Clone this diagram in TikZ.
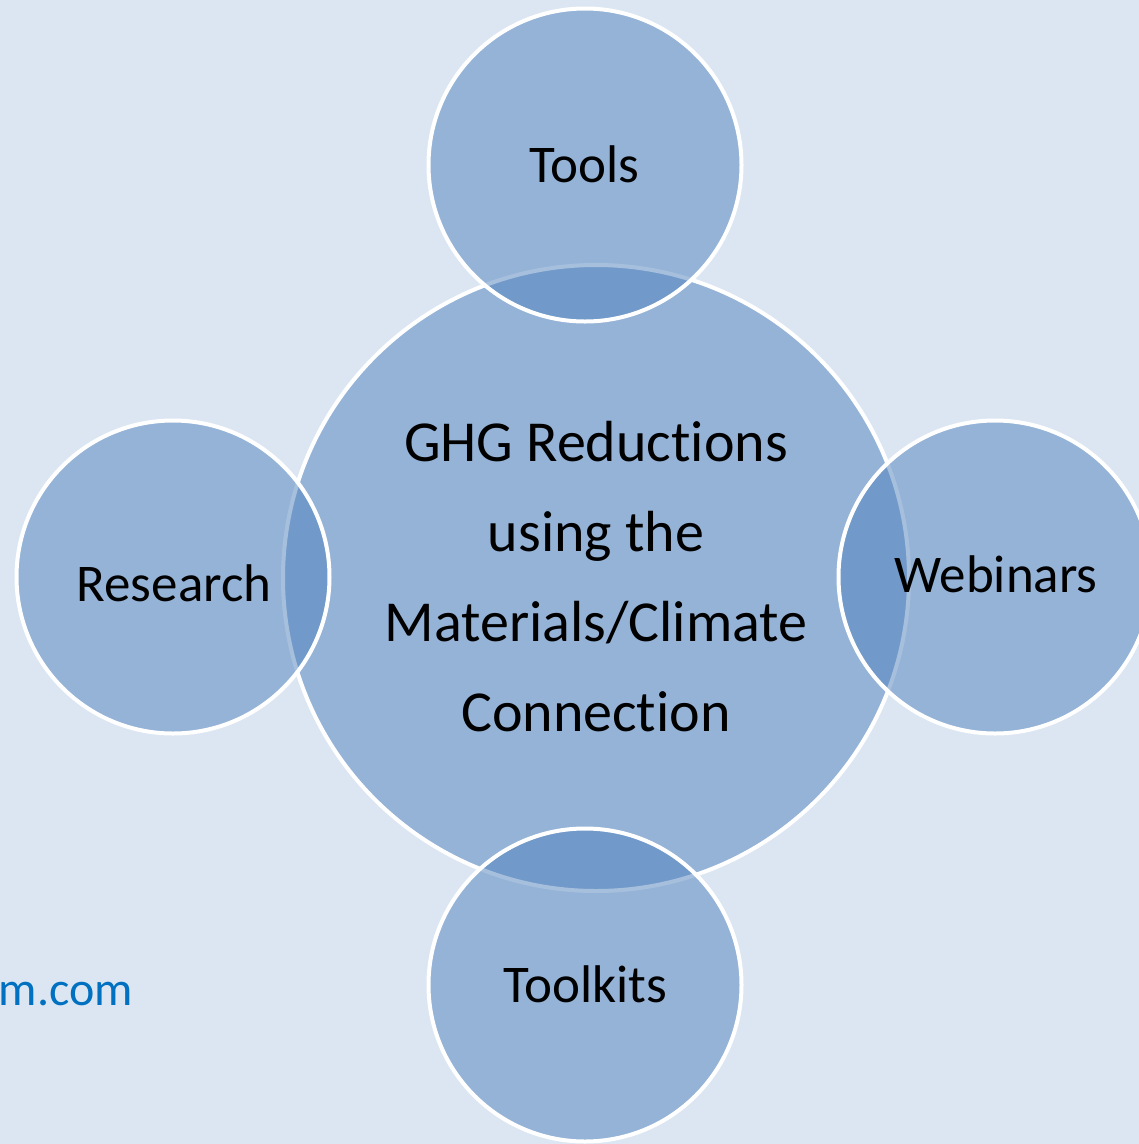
\documentclass[tikz,border=0pt]{standalone}
\usepackage{fontspec}
\setmainfont[Ligatures=NoCommon,RawFeature=-liga]{Carlito}
\definecolor{bgblue}{HTML}{DCE6F2}
\definecolor{accent}{HTML}{4F81BD}
\definecolor{linkblue}{HTML}{0070C0}
\begin{document}
\begin{tikzpicture}[x=1pt,y=-1pt,
  bubble/.style={circle, inner sep=0pt, fill=accent, fill opacity=0.5, draw=white, draw opacity=1, line width=4pt},
  bigbubble/.style={bubble, minimum size=626pt},
  smallbubble/.style={bubble, minimum size=313pt},
  lbl/.style={text=black, anchor=base, inner sep=0pt, font=\fontsize{53}{63}\selectfont}]
\fill[bgblue] (0,0) rectangle (1139,1144);
\useasboundingbox (0,0) rectangle (1139,1144);
\node[bigbubble] (center) at (596,578) {};
\node[smallbubble] (tools) at (585,165) {};
\node[smallbubble] (toolkits) at (585,985) {};
\node[smallbubble] (research) at (173,577) {};
\node[smallbubble] (webinars) at (995,577) {};
\node[inner sep=0pt, align=center, anchor=center, font=\fontsize{58}{90}\selectfont] (centertext) at (596,577)
  {GHG Reductions\\using the\\Materials/Climate\\Connection};
\node[lbl] (toolslbl) at (584,182) {Tools};
\node[lbl] (toolkitslbl) at (585,1002) {Toolkits};
\node[lbl] (researchlbl) at (174,601) {Research};
\node[lbl] (webinarslbl) at (996,592) {Webinars};
\node[text=linkblue, anchor=base east, inner sep=0pt, font=\fontsize{48}{58}\selectfont] (url) at (133,1005) {m.com};
\end{tikzpicture}
\end{document}
